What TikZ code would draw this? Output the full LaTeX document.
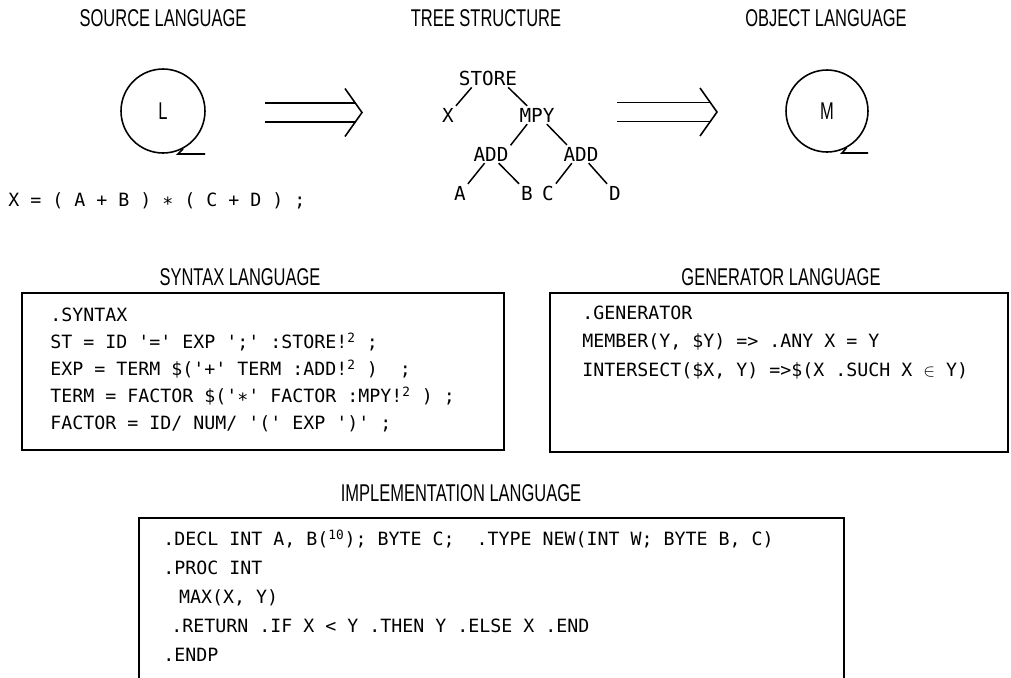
\documentclass[tikz,border=0pt]{standalone}
\usepackage{fontspec}
\usetikzlibrary{calc}
\newfontfamily\titlefamily{Liberation Sans}[FakeStretch=0.68]
\newfontfamily\codefamily{DejaVu Sans Mono}[Ligatures=TeXOff]
\tikzset{
  ttl/.style={font=\titlefamily\fontsize{13.8pt}{16pt}\selectfont, inner sep=0pt},
  ring/.style={circle, draw, line width=0.9pt, inner sep=0pt,
               font=\titlefamily\fontsize{13.8pt}{16pt}\selectfont},
  ringline/.style={line width=0.9pt},
  tnode/.style={font=\codefamily\fontsize{11pt}{13pt}\selectfont, inner sep=1pt},
  tedge/.style={line width=0.85pt},
  codeline/.style={font=\codefamily\fontsize{10.4pt}{13pt}\selectfont,
                   inner sep=0pt, anchor=base west},
  boxline/.style={line width=0.9pt},
  implies/.style={line width=0.9pt},
}

\begin{document}
\begin{tikzpicture}[x=0.02cm, y=-0.02cm]
  \useasboundingbox (0,0) rectangle (1011,677);
  % headings
  \node[ttl] (hSource) at (163,18) {SOURCE LANGUAGE};
  \node[ttl] (hTree) at (486,18) {TREE STRUCTURE};
  \node[ttl] (hObject) at (826,18) {OBJECT LANGUAGE};
  \node[ttl] (hSyntax) at (240,277) {SYNTAX LANGUAGE};
  \node[ttl] (hGen) at (781,277) {GENERATOR LANGUAGE};
  \node[ttl] (hImpl) at (461,493) {IMPLEMENTATION LANGUAGE};

  % source and object languages
  \node[ring, minimum size=1.68cm] (srcL) at (163,111) {L};
  \coordinate (tailL) at (178,154);
  \coordinate (tailLe) at (205,154);
  \draw[ringline] (srcL.-62) to[out=-120,in=60] (tailL) -- (tailLe);
  \node[ring, minimum size=1.64cm] (objM) at (827,111) {M};
  \coordinate (tailM) at (842,153);
  \coordinate (tailMe) at (868,153);
  \draw[ringline] (objM.-62) to[out=-120,in=60] (tailM) -- (tailMe);
  \node[codeline] (srcExpr) at (8,206.5)
    {X = ( A + B ) \raisebox{-2pt}{*} ( C + D ) ;};

  % double arrows
  \coordinate (arrA) at (265,112.5);
  \coordinate (arrAtip) at (362,112.5);
  \coordinate (arrB) at (617,112);
  \coordinate (arrBtip) at (717,112);
  \foreach \s/\e in {arrA/arrAtip, arrB/arrBtip} {
    \draw[implies] ($(\s)+(0,-9.5)$) -- ($(\e)+(-6,-9.5)$);
    \draw[implies] ($(\s)+(0,9.5)$) -- ($(\e)+(-6,9.5)$);
    \draw[implies] ($(\e)+(-17,-24)$) -- (\e) -- ($(\e)+(-17,24)$);
  }

  % tree
  \node[tnode] (tStore) at (488,78) {STORE};
  \node[tnode] (tX) at (448,115) {X};
  \node[tnode] (tMpy) at (537,115) {MPY};
  \node[tnode] (tAddL) at (491,154) {ADD};
  \node[tnode] (tAddR) at (581,154) {ADD};
  \node[tnode] (tA) at (460,193) {A};
  \node[tnode] (tB) at (527,193) {B};
  \node[tnode] (tC) at (548,193) {C};
  \node[tnode] (tD) at (615,193) {D};
  \draw[tedge] (tX.north east) -- (tStore.210);
  \draw[tedge] (tStore.-25) -- (tMpy.137);
  \draw[tedge] (tMpy.-137) -- (tAddL.24);
  \draw[tedge] (tMpy.-43) -- (tAddR.147);
  \draw[tedge] (tAddL.235) -- (tA.north east);
  \draw[tedge] (tAddL.-50) -- (tB.north west);
  \draw[tedge] (tAddR.-135) -- (tC.north east);
  \draw[tedge] (tAddR.-50) -- (tD.north west);

  % syntax box
  \draw[boxline] (22,293) rectangle (504,450);
  \foreach \txt [count=\i] in {{.SYNTAX},
      {ST = ID '=' EXP ';' :STORE!\textsuperscript{2} ;},
      {EXP = TERM \$('+' TERM :ADD!\textsuperscript{2} )\ \ ;},
      {TERM = FACTOR \$('\raisebox{-2pt}{*}' FACTOR :MPY!\textsuperscript{2} ) ;},
      {FACTOR = ID/ NUM/ '(' EXP ')' ;}}
    \node[codeline] (syn\i) at (50,{321.5+27*(\i-1)}) {\txt};

  % generator box
  \draw[boxline] (550,293) rectangle (1008,452);
  \foreach \txt [count=\i] in {{.GENERATOR},
      {MEMBER(Y, \$Y) => .ANY X = Y},
      {INTERSECT(\$X, Y) =>\$(X .SUCH X $\in$ Y)}}
    \node[codeline] (gen\i) at (582,{319.5+28.3*(\i-1)}) {\txt};

  % implementation box (runs off the bottom)
  \draw[boxline] (139,690) |- (844,518) -- (844,690);
  \foreach \txt [count=\i] in {
      {.DECL INT A, B(\textsuperscript{10}); BYTE C;~ .TYPE NEW(INT W; BYTE B, C)},
      {.PROC INT},
      {\hspace{9pt}MAX(X, Y)},
      {\hspace{4.5pt}.RETURN .IF X < Y .THEN Y .ELSE X .END},
      {.ENDP}}
    \node[codeline] (imp\i) at (163,{545.5+29*(\i-1)}) {\txt};
\end{tikzpicture}
\end{document}
